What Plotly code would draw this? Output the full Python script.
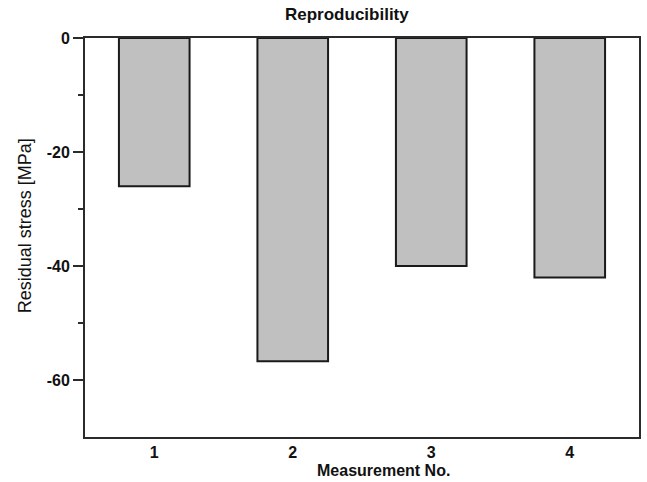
import plotly.graph_objects as go

# Residual stress measured four times on the same specimen
measurements = [1, 2, 3, 4]
residual_stress = [-26, -56.7, -40, -42]
y_ticks = [0, -20, -40, -60]
y_tick_labels = ["0", "-20", "-40", "-60"]

axis_color = "#2b2b2b"
font_family = "Arial, Liberation Sans, sans-serif"

W, H = 647, 482
L, R, T, B = 85, 6, 38, 45

fig = go.Figure(
    go.Bar(
        x=measurements,
        y=residual_stress,
        width=0.51,
        marker=dict(color="#c0c0c0", line=dict(color="#1a1a1a", width=2)),
        showlegend=False,
    )
)

fig.update_layout(
    width=W,
    height=H,
    margin=dict(l=L, r=R, t=T, b=B),
    paper_bgcolor="white",
    plot_bgcolor="white",
    font=dict(family=font_family, color="#111"),
)

# Title and axis titles placed in paper pixels
fig.add_annotation(
    text="<b>Reproducibility</b>", xref="paper", yref="paper",
    x=(348 - L) / (W - L - R), y=1 + (T - 15) / (H - T - B),
    xanchor="center", yanchor="middle", showarrow=False,
    font=dict(size=17, color="#111"),
)
fig.add_annotation(
    text="<b>Measurement No.</b>", xref="paper", yref="paper",
    x=(385 - L) / (W - L - R), y=-(471 - (H - B)) / (H - T - B),
    xanchor="center", yanchor="middle", showarrow=False,
    font=dict(size=16, color="#111"),
)
fig.add_annotation(
    text="Residual stress [MPa]", xref="paper", yref="paper",
    x=-(L - 25) / (W - L - R), y=(H - B - 226) / (H - T - B),
    xanchor="center", yanchor="middle", showarrow=False, textangle=-90,
    font=dict(size=18, color="#111"),
)

fig.update_xaxes(
    range=[0.5, 4.5],
    tickmode="array",
    tickvals=measurements,
    ticktext=[f"<b>{m}</b>" for m in measurements],
    ticks="",
    showgrid=False,
    zeroline=False,
    showline=True,
    linecolor=axis_color,
    linewidth=2,
    mirror=True,
    tickfont=dict(size=16),
)

fig.update_yaxes(
    range=[-70, 0],
    tickmode="array",
    tickvals=y_ticks,
    ticktext=[f"<b>{t}</b>" for t in y_tick_labels],
    ticks="outside",
    ticklen=10,
    tickwidth=1.5,
    tickcolor=axis_color,
    minor=dict(
        tickmode="array",
        tickvals=[-10, -30, -50],
        ticks="outside",
        ticklen=5,
        tickwidth=1.5,
        tickcolor=axis_color,
    ),
    showgrid=False,
    zeroline=False,
    showline=True,
    linecolor=axis_color,
    linewidth=2,
    mirror=True,
    tickfont=dict(size=16),
)

fig.write_html("out.html")
